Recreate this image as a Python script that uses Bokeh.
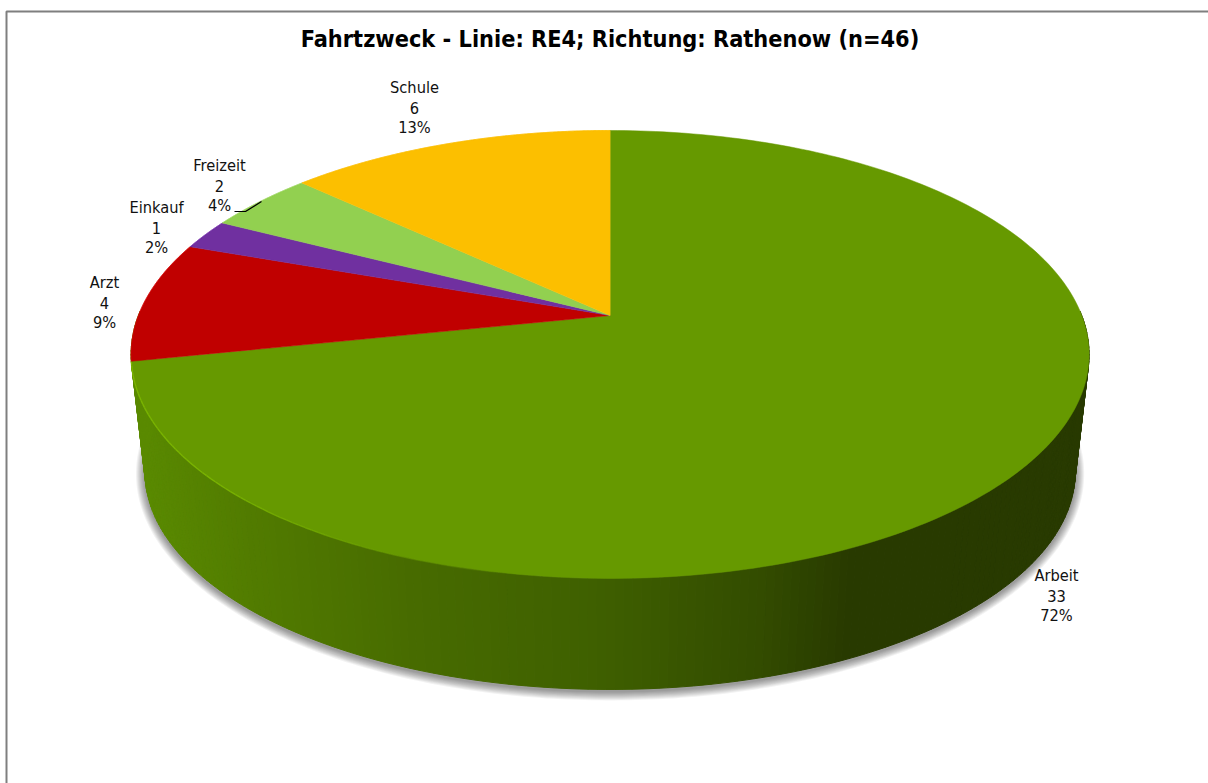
import numpy as np
from bokeh.plotting import figure
from bokeh.models import Range1d
from bokeh.core.properties import value
from bokeh.embed import file_html
from bokeh.resources import INLINE

title_text = "Fahrtzweck - Linie: RE4; Richtung: Rathenow (n=46)"
categories = ["Arbeit", "Arzt", "Einkauf", "Freizeit", "Schule"]
counts = [33, 4, 1, 2, 6]
colors = ["#669900", "#C00000", "#7030A0", "#92D050", "#FCBF00"]
rim_colors = ["#7DB800", "#E00000", "#8038B8", "#A4DC68", "#FCBF00"]

# label anchors (page pixels)
label_x = [1056, 104, 156, 219, 414]
label_y = [575, 282, 207, 165, 87]
LINE = 20
FONT = "DejaVu Sans Condensed"

# perspective projection of the unit disc onto the page
CX, CY, A, B, K = 609.6, 315.0, 471.7, 217.2, 0.174
ELL_CY = 354.0
BASE_S, BASE_DY = 0.971, 117.5


def top(t):
    u, v = np.sin(t), np.cos(t)
    d = 1 + K * v
    return CX + A * u / d, CY - B * v / d


def base(t):
    x, y = top(t)
    return CX + BASE_S * (x - CX), ELL_CY + BASE_DY + BASE_S * (y - ELL_CY)


total = sum(counts)
fractions = np.cumsum([0] + counts) / total * 2 * np.pi

p = figure(width=1208, height=783, output_backend="svg", toolbar_location=None,
           x_range=Range1d(0, 1208), y_range=Range1d(783, 0), min_border=0,
           outline_line_color=None, background_fill_color="white",
           border_fill_color="white", x_axis_location=None, y_axis_location=None)
p.grid.visible = False
p.styles = {"position": "absolute", "left": "0px", "top": "0px"}

# frame
p.line([1208, 6, 6], [11, 11, 783], line_color="#7f7f7f", line_width=2)

# soft shadow under the side wall
front = np.linspace(np.pi * 0.5 - 0.02, np.pi * 1.5 + 0.02, 240)
bx, by = base(front)
tx, ty = top(front)
for d in np.arange(9, 0, -1.0):
    nx = CX + (bx - CX) * (1 + d / 465.0)
    ny = ELL_CY + BASE_DY + 2 + (by - ELL_CY - BASE_DY) * (1 + d / 218.0)
    sx = [tx[0] * 0.6 + bx[0] * 0.4 + d - 4] + list(nx) + [tx[-1] * 0.6 + bx[-1] * 0.4 - d + 4]
    sy = [ty[0] * 0.6 + by[0] * 0.4] + list(ny) + [ty[-1] * 0.6 + by[-1] * 0.4]
    p.patch(sx, sy, fill_color="#000000", fill_alpha=0.05, line_color=None)

# side wall, shaded strips
stops_x = [130, 250, 420, 600, 760, 850, 1090]
stops_r = [0x5B, 0x52, 0x47, 0x3F, 0x33, 0x28, 0x28]
stops_g = [0x8C, 0x7C, 0x6B, 0x60, 0x4C, 0x3A, 0x3A]
edges = np.linspace(front[0], front[-1], 200)
xs, ys, cols = [], [], []
for a0, a1 in zip(edges[:-1], edges[1:]):
    x0, y0 = top(np.array([a0, a1]))
    x1, y1 = base(np.array([a1, a0]))
    xm = (x0.mean() + x1.mean()) / 2
    xs.append(list(x0) + list(x1))
    ys.append(list(y0) + list(y1))
    cols.append("#%02x%02x00" % (int(np.interp(xm, stops_x, stops_r)),
                                 int(np.interp(xm, stops_x, stops_g))))
p.patches(xs, ys, fill_color=cols, line_color=cols, line_width=1)

# top of the pie
for a0, a1, col, rim in zip(fractions[:-1], fractions[1:], colors, rim_colors):
    t = np.linspace(a0, a1, 240)
    x, y = top(t)
    p.patch([CX] + list(x), [CY] + list(y), fill_color=col, line_color=col, line_width=0.5)
    if col != colors[0]:
        p.line(x, y, line_color=rim, line_width=1, line_alpha=0.7)

# light rim on the front left of the largest slice
t = np.linspace(np.pi * 1.05, fractions[1], 80)
x, y = top(t)
x2, y2 = x, y + 0.5
segs_x = [list(x2[i:i + 2]) for i in range(len(x2) - 1)]
segs_y = [list(y2[i:i + 2]) for i in range(len(x2) - 1)]
alph = list(np.clip((520 - x[:-1]) / 300.0, 0, 1) * 0.9)
p.multi_line(segs_x, segs_y, line_color="#7DB800", line_width=1.4, line_alpha=alph)

# leader line for Freizeit
p.line([234, 245, 261], [211, 211, 201], line_color="#000000", line_width=1.2)

# labels
tx_, ty_, tt = [], [], []
for name, n, lx, ly in zip(categories, counts, label_x, label_y):
    for i, s in enumerate([name, str(n), f"{round(100 * n / total)}%"]):
        tx_.append(lx)
        ty_.append(ly + i * LINE)
        tt.append(s)
p.text(tx_, ty_, text=tt, text_font=value(FONT), text_font_size="16.3px", text_color="#111111",
       text_align="center", text_baseline="middle")
p.text([609.5], [38], text=[title_text], text_font=value(FONT), text_font_style="bold",
       text_font_size="23.3px", text_color="#000000", text_align="center", text_baseline="middle")

open("out.html", "w").write(file_html(p, INLINE))
